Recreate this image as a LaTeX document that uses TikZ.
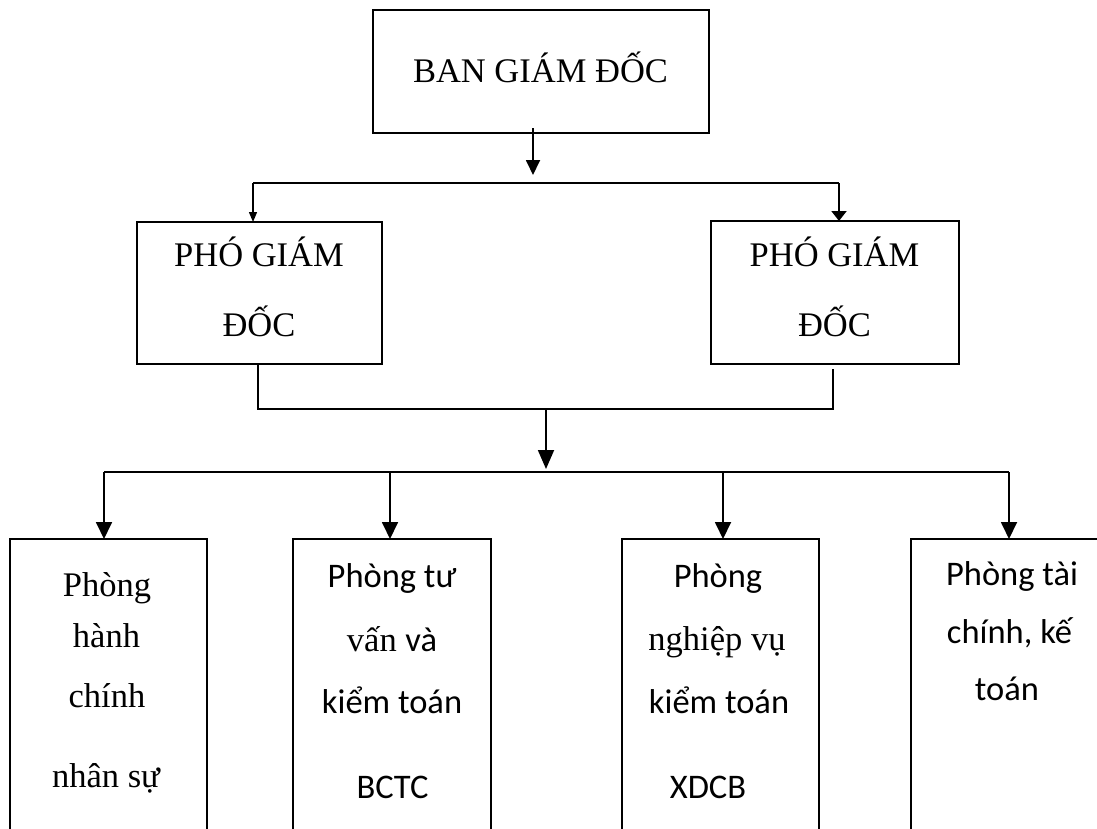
\documentclass[tikz,border=0pt]{standalone}
\usepackage{fontspec}
\setmainfont{Liberation Serif}
\newfontfamily\calibrifont{Carlito}
\usetikzlibrary{arrows.meta}
\begin{document}
\begin{tikzpicture}[x=1pt,y=-1pt,
  box/.style={draw, line width=2.6pt, anchor=north west, inner sep=0pt, outer sep=0pt},
  lbox/.style={draw, line width=2.2pt, anchor=north west, inner sep=0pt, outer sep=0pt},
  txt/.style={anchor=base, inner sep=0pt, font=\fontsize{34.5}{40}\selectfont},
  ctxt/.style={anchor=base, inner sep=0pt, font=\fontsize{34.5}{40}\selectfont\calibrifont},
  con/.style={line width=1.8pt},
  arrB/.style={con, -{Triangle[length=17pt,width=16pt]}},
  arrT/.style={con, -{Triangle[length=15pt,width=14pt]}},
  arrC/.style={con, -{Triangle[length=19pt,width=16pt]}},
  arrSL/.style={line width=1.3pt, -{Triangle[length=10pt,width=8pt]}},
  arrSR/.style={line width=2pt, -{Triangle[length=10pt,width=15pt]}}
]
\useasboundingbox (0,0) rectangle (1097,828);
\clip (0,0) rectangle (1097,828);
\fill[white] (0,0) rectangle (1097,828);

% boxes
\node[box, minimum width=336pt, minimum height=123pt] (top) at (373,10) {};
\node[box, minimum width=245pt, minimum height=142pt] (pgL) at (137,222) {};
\node[box, minimum width=248pt, minimum height=143pt] (pgR) at (711,221) {};
\node[lbox, minimum width=197pt, minimum height=320pt] (b1) at (10,539) {};
\node[lbox, minimum width=198pt, minimum height=320pt] (b2) at (293,539) {};
\node[lbox, minimum width=197pt, minimum height=320pt] (b3) at (622,539) {};
\node[lbox, minimum width=199pt, minimum height=320pt] (b4) at (911,539) {};

% texts
\node[txt] (t0) at (540.5,82) {BAN GIÁM ĐỐC};
\node[txt] (tL1) at (259,266.5) {PHÓ GIÁM};
\node[txt] (tL2) at (259,336) {ĐỐC};
\node[txt] (tR1) at (834.5,266.5) {PHÓ GIÁM};
\node[txt] (tR2) at (834.5,336) {ĐỐC};

\node[txt] (a1) at (107,596) {Phòng};
\node[txt] (a2) at (106.5,647) {hành};
\node[txt] (a3) at (107,707) {chính};
\node[txt] (a4) at (106,787) {nhân sự};

\node[ctxt] (c1) at (392,587) {Phòng tư};
\node[txt] (c2) at (392,651) {vấn {\calibrifont và}};
\node[ctxt] (c3) at (392,713) {kiểm toán};
\node[ctxt] (c4) at (392.5,798) {BCTC};

\node[ctxt] (d1) at (718,587) {Phòng};
\node[txt] (d2) at (717,650) {nghiệp vụ};
\node[ctxt] (d3) at (719,713) {kiểm toán};
\node[ctxt] (d4) at (708,798) {XDCB};

\node[ctxt] (e1) at (1012,585) {Phòng tài};
\node[ctxt] (e2) at (1009.5,643) {chính, kế};
\node[ctxt] (e3) at (1007,700) {toán};

% coordinates
\coordinate (tA) at (533,175);
\coordinate (busA) at (253,183);
\coordinate (busB) at (839,183);
\coordinate (jL) at (258,409);
\coordinate (jR) at (833,409);
\coordinate (jRt) at (833,369);
\coordinate (cA) at (546,409);
\coordinate (cB) at (546,469);
\coordinate (q1) at (104,472);
\coordinate (q2) at (390,472);
\coordinate (q3) at (723,472);
\coordinate (q4) at (1009,472);

% connectors
\draw[arrT] (top.south -| tA) ++(0,-5) -- (tA);
\draw[con] (busA) -- (busB);
\draw[arrSL] (busA) -- (busA |- pgL.north);
\draw[arrSR] (busB) -- (busB |- pgR.north);
\draw[con] (pgL.south -| jL) -- (jL) -- (jR) -- (jRt);
\draw[arrC] (cA) -- (cB);
\draw[con] (q1) -- (q4);
\draw[arrB] (q1) -- (q1 |- b1.north);
\draw[arrB] (q2) -- (q2 |- b2.north);
\draw[arrB] (q3) -- (q3 |- b3.north);
\draw[arrB] (q4) -- (q4 |- b4.north);
\end{tikzpicture}
\end{document}
